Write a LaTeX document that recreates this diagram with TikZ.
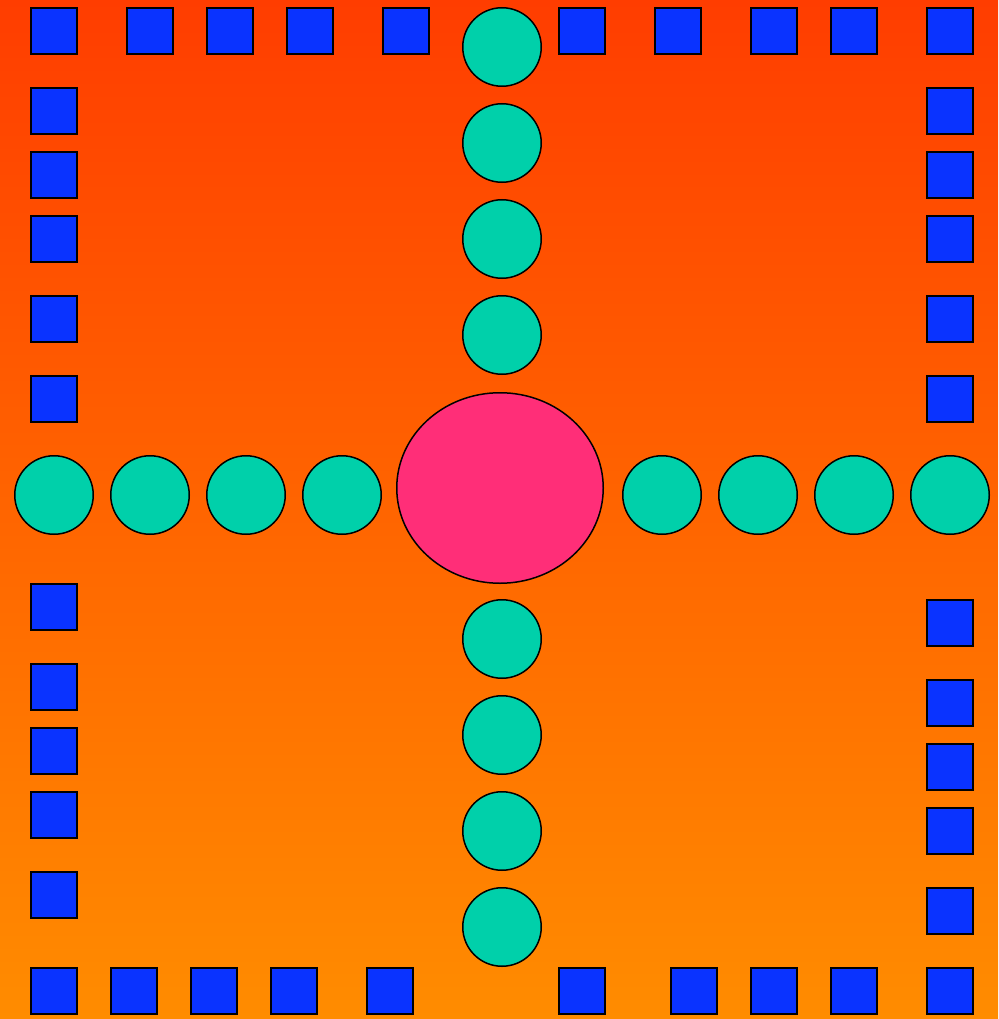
\documentclass[tikz,border=0pt]{standalone}
\usetikzlibrary{shapes.geometric}
\definecolor{bgtop}{HTML}{FF3D00}
\definecolor{bgbot}{HTML}{FF8C00}
\definecolor{sqblue}{HTML}{0A33FF}
\definecolor{circgreen}{HTML}{00D0AA}
\definecolor{hubpink}{HTML}{FF2E78}
\tikzset{
  sq/.style={draw=black, line width=2pt, fill=sqblue, rectangle, minimum size=46pt, inner sep=0pt},
  dot/.style={draw=black, line width=1.5pt, fill=circgreen, circle, minimum size=78.5pt, inner sep=0pt},
  hub/.style={draw=black, line width=1.5pt, fill=hubpink, ellipse, minimum width=206.5pt, minimum height=190.5pt, inner sep=0pt}
}
\begin{document}
\begin{tikzpicture}[x=1pt,y=-1pt]
\useasboundingbox (0,0) rectangle (998,1019);
\shade[top color=bgtop, bottom color=bgbot] (0,0) rectangle (998,1019);
% top row
\foreach \x [count=\i] in {54,150,230,310,406,582,678,774,854,950}
  \node[sq] (t\i) at (\x,31) {};
% bottom row
\foreach \x [count=\i] in {54,134,214,294,390,582,694,774,854,950}
  \node[sq] (b\i) at (\x,991) {};
% left column
\foreach \y [count=\i] in {111,175,239,319,399,607,687,751,815,895}
  \node[sq] (l\i) at (54,\y) {};
% right column
\foreach \y [count=\i] in {111,175,239,319,399,623,703,767,831,911}
  \node[sq] (r\i) at (950,\y) {};
% central hub
\node[hub] (hub) at (500,488) {};
% vertical circles
\foreach \y [count=\i] in {47,143,239,335}
  \node[dot] (vn\i) at (502,\y) {};
\foreach \y [count=\i] in {639,735,831,927}
  \node[dot] (vs\i) at (502,\y) {};
% horizontal circles
\foreach \x [count=\i] in {54,150,246,342}
  \node[dot] (hw\i) at (\x,495) {};
\foreach \x [count=\i] in {662,758,854,950}
  \node[dot] (he\i) at (\x,495) {};
\end{tikzpicture}
\end{document}
